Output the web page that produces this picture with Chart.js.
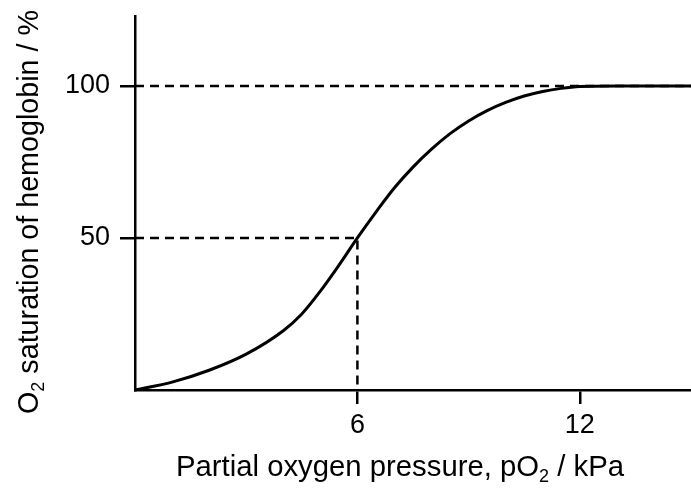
<!DOCTYPE html>
<html>
<head>
<meta charset="utf-8">
<script src="https://cdn.jsdelivr.net/npm/chart.js@4/dist/chart.umd.min.js"></script>
<style>
  body { margin: 0; background: #fff; }
  #wrap { width: 691px; height: 488px; }
</style>
</head>
<body>
<div id="wrap"><canvas id="myChart" width="691" height="488"></canvas></div>
<script>
// oxygen dissociation curve
const pressure = [0, 1, 2, 3, 4, 4.5, 5, 5.5, 6, 6.5, 7, 7.5, 8, 8.5, 9, 9.5, 10, 10.5, 11, 11.5, 12, 13, 14, 15];
const saturation = [0, 2.6, 6.5, 11.8, 19.5, 25, 32.5, 41, 50, 58.5, 66.5, 73.3, 79.2, 84.3, 88.5, 91.9, 94.6, 96.7, 98.2, 99.2, 99.8, 100, 100, 100];

const xTicks = [6, 12];
const yTicks = [50, 100];
const xRange = [0, 15];
const yRange = [0, 123];

// dashed guide lines: full saturation and half saturation (P50)
const fullLevel = 100;
const halfLevel = 50;
const p50 = 6;

const fontFamily = "'Liberation Sans', Arial, sans-serif";

function drawRich(ctx, parts, size) {
  const subSize = Math.round(size * 0.62);
  let total = 0;
  parts.forEach((p) => {
    ctx.font = (p.sub ? subSize : size) + "px " + fontFamily;
    p.w = ctx.measureText(p.t).width;
    total += p.w;
  });
  let x = -total / 2;
  parts.forEach((p) => {
    ctx.font = (p.sub ? subSize : size) + "px " + fontFamily;
    ctx.fillText(p.t, x, p.sub ? size * 0.32 : 0);
    x += p.w;
  });
}

const axisTitles = {
  id: "axisTitles",
  afterDraw(chart) {
    const ctx = chart.ctx;
    ctx.save();
    ctx.fillStyle = "#000";
    ctx.textBaseline = "middle";
    ctx.textAlign = "left";

    ctx.save();
    ctx.translate(400, 468);
    drawRich(ctx, [
      { t: "Partial oxygen pressure, pO" },
      { t: "2", sub: true },
      { t: " / kPa" },
    ], 29.3);
    ctx.restore();

    ctx.save();
    ctx.translate(30, 212);
    ctx.rotate(-Math.PI / 2);
    drawRich(ctx, [
      { t: "O" },
      { t: "2", sub: true },
      { t: " saturation of hemoglobin / %" },
    ], 28.7);
    ctx.restore();

    ctx.restore();
  },
};

function createChart() {
  const curve = pressure.map((p, i) => ({ x: p, y: saturation[i] }));
  const fullLine = [{ x: xRange[0], y: fullLevel }, { x: xRange[1], y: fullLevel }];
  const halfLine = [{ x: xRange[0], y: halfLevel }, { x: p50, y: halfLevel }, { x: p50, y: yRange[0] }];

  const dashed = {
    borderColor: "#000",
    borderWidth: 2.5,
    borderDash: [9, 6],
    pointRadius: 0,
    showLine: true,
    fill: false,
    tension: 0,
  };

  const data = {
    datasets: [
      Object.assign({ label: "100%", data: fullLine }, dashed),
      Object.assign({ label: "P50", data: halfLine }, dashed),
      {
        label: "Saturation",
        data: curve,
        borderColor: "#000",
        borderWidth: 3,
        pointRadius: 0,
        showLine: true,
        fill: false,
        cubicInterpolationMode: "monotone",
      },
    ],
  };

  const config = {
    type: "scatter",
    data,
    options: {
      responsive: false,
      animation: false,
      devicePixelRatio: 1,
      layout: { padding: { top: 16, right: 0, left: 0, bottom: 0 } },
      plugins: {
        legend: { display: false },
        tooltip: { enabled: false },
      },
      scales: {
        x: {
          type: "linear",
          min: xRange[0],
          max: xRange[1],
          afterBuildTicks: (scale) => {
            scale.ticks = xTicks.map((v) => ({ value: v }));
          },
          afterFit: (scale) => {
            scale.height = 98;
            scale.paddingLeft = 0;
            scale.paddingRight = 0;
          },
          ticks: {
            color: "#000",
            font: { family: fontFamily, size: 27 },
            padding: 5,
            maxRotation: 0,
          },
          grid: {
            drawOnChartArea: false,
            drawTicks: true,
            tickLength: 14,
            color: "#000",
            lineWidth: 2.5,
          },
          border: { display: true, color: "#000", width: 2.5 },
        },
        y: {
          type: "linear",
          min: yRange[0],
          max: yRange[1],
          afterBuildTicks: (scale) => {
            scale.ticks = yTicks.map((v) => ({ value: v }));
          },
          afterFit: (scale) => {
            scale.width = 135;
            scale.paddingTop = 0;
            scale.paddingBottom = 0;
          },
          ticks: {
            color: "#000",
            font: { family: fontFamily, size: 27 },
            padding: 10,
          },
          grid: {
            drawOnChartArea: false,
            drawTicks: true,
            tickLength: 15,
            color: "#000",
            lineWidth: 2.5,
          },
          border: { display: true, color: "#000", width: 2.5 },
        },
      },
    },
    plugins: [axisTitles],
  };
  new Chart(document.getElementById("myChart"), config);
}

createChart();
</script>
</body>
</html>
